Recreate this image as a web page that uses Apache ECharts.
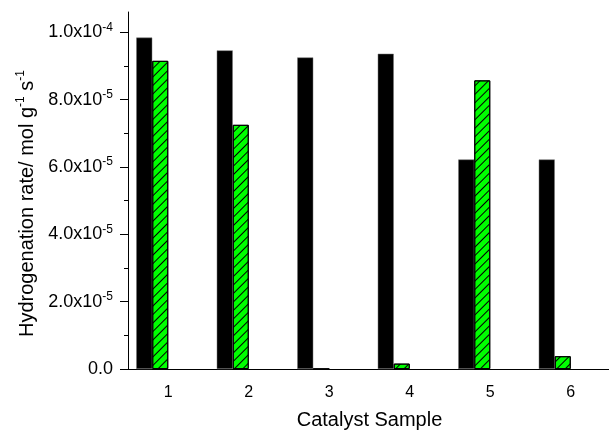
<!DOCTYPE html>
<html>
<head>
<meta charset="utf-8">
<script src="https://cdn.jsdelivr.net/npm/echarts@6/dist/echarts.min.js"></script>
<style>html,body{margin:0;padding:0;background:#fff}#c{width:609px;height:431px}</style>
</head>
<body>
<div id="c"></div>
<script>
var categories = ['1', '2', '3', '4', '5', '6'];
var blackValues = [9.84e-5, 9.46e-5, 9.25e-5, 9.36e-5, 6.22e-5, 6.22e-5];
var greenValues = [9.15e-5, 7.25e-5, 0, 1.6e-6, 8.57e-5, 3.8e-6];
var yMajorTicks = [0, 2e-5, 4e-5, 6e-5, 8e-5, 1e-4];
var yMinorTicks = [1e-5, 3e-5, 5e-5, 7e-5, 9e-5];

function fmt(v) {
  if (Math.abs(v) < 1e-12) return '{a|0.0}';
  var e = Math.floor(Math.log10(v) + 1e-9);
  var m = v / Math.pow(10, e);
  return '{a|' + m.toFixed(1) + 'x10}{b|' + e + '}';
}
var FONT = 'Liberation Sans, Arial, sans-serif';
var chart = echarts.init(document.getElementById('c'));
chart.setOption({
  animation: false,
  backgroundColor: '#fff',
  grid: { left: 128, right: -2, top: 12, bottom: 62, containLabel: false, outerBoundsMode: 'none' },
  xAxis: [{
    type: 'category', data: categories, boundaryGap: true,
    axisLine: { lineStyle: { color: '#000', width: 1 } },
    axisTick: { alignWithLabel: true, length: 7, lineStyle: { color: '#000' } },
    axisLabel: { color: '#000', fontSize: 16, fontFamily: FONT, margin: 16 },
    name: 'Catalyst Sample', nameLocation: 'middle', nameGap: 41,
    nameTextStyle: { color: '#000', fontSize: 20, fontFamily: FONT }
  }, {
    type: 'category', data: categories, boundaryGap: true, position: 'bottom',
    axisLine: { show: false },
    axisTick: { alignWithLabel: false, length: 4, lineStyle: { color: '#000' } },
    axisLabel: { show: false }
  }],
  yAxis: [{
    type: 'value', min: 0, max: 1.06e-4, interval: 2e-5,
    splitLine: { show: false },
    axisLine: { show: true, lineStyle: { color: '#000', width: 1 } },
    axisTick: { show: true, length: 8, customValues: yMajorTicks, lineStyle: { color: '#000' } },
    axisLabel: {
      customValues: yMajorTicks, formatter: fmt, margin: 15,
      rich: {
        a: { fontSize: 18, fontFamily: FONT, color: '#000' },
        b: { fontSize: 12, fontFamily: FONT, color: '#000', verticalAlign: 'top', padding: [0, 0, 10, 0] }
      }
    },
    name: '{a|Hydrogenation rate/ mol g}{b|-1}{a| s}{b|-1}',
    nameLocation: 'middle', nameGap: 89,
    nameTextStyle: {
      padding: [0, 26, 0, 0],
      rich: {
        a: { fontSize: 20, fontFamily: FONT, color: '#000' },
        b: { fontSize: 12, fontFamily: FONT, color: '#000', padding: [0, 0, 12, 0] }
      }
    }
  }, {
    type: 'value', min: 0, max: 1.06e-4, interval: 2e-5, position: 'left',
    splitLine: { show: false },
    axisLine: { show: false },
    axisTick: { show: true, length: 4, customValues: yMinorTicks, lineStyle: { color: '#000' } },
    axisLabel: { show: false }
  }],
  series: [{
    type: 'bar', data: blackValues, barWidth: 16, barGap: '0%',
    itemStyle: { color: '#000', borderColor: '#777', borderWidth: 0.5 }
  }, {
    type: 'bar', data: greenValues, barWidth: 16, barGap: '0%',
    itemStyle: {
      color: '#00ff00', borderColor: '#000', borderWidth: 1,
      decal: { symbol: 'rect', symbolSize: 1, color: '#000', backgroundColor: null,
               dashArrayX: [1, 0], dashArrayY: [1, 5], rotation: -Math.PI / 4 }
    }
  }, {
    type: 'bar', data: [], barWidth: 16, barGap: '0%'
  }, {
    type: 'bar', data: [], barWidth: 16, barGap: '0%'
  }]
});
</script>
</body>
</html>
